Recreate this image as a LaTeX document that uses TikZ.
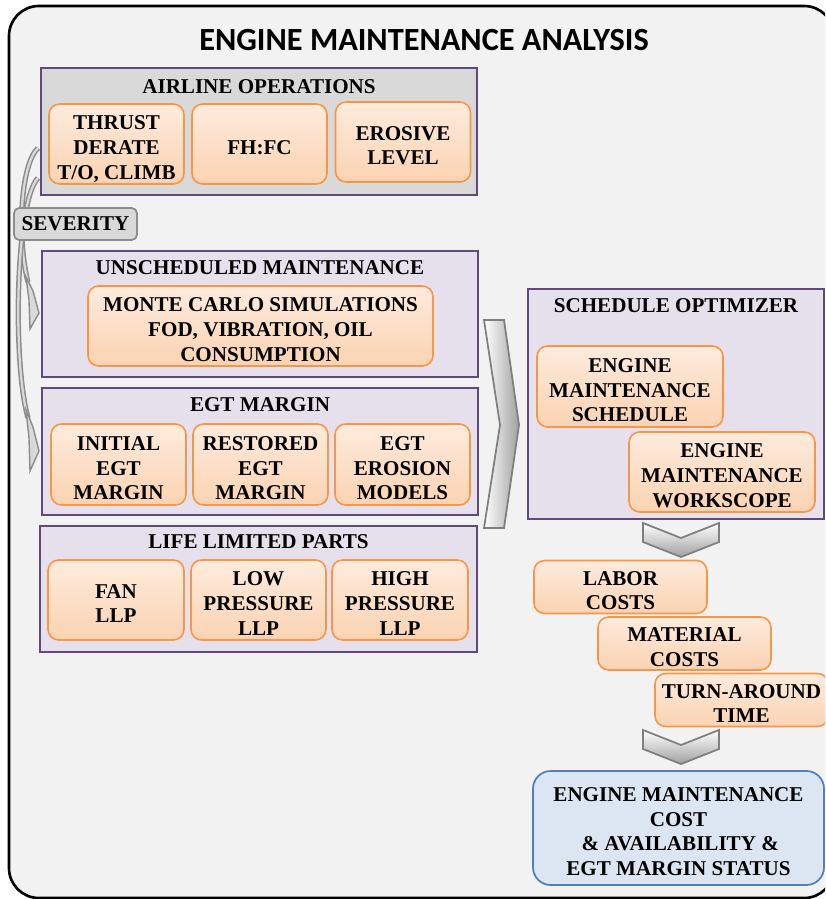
\documentclass[tikz,border=0pt]{standalone}
\usepackage{fontspec}
\setmainfont{Liberation Serif}
\newfontfamily\titlefont{Carlito}

\definecolor{bgGray}{HTML}{F2F2F2}
\definecolor{opsFill}{HTML}{D9D9D9}
\definecolor{lavFill}{HTML}{E5E0EC}
\definecolor{grpLine}{HTML}{604A7B}
\definecolor{orLine}{HTML}{F79646}
\definecolor{orTop}{HTML}{FDEBDD}
\definecolor{orBot}{HTML}{FBD3B2}
\definecolor{blueFill}{HTML}{DCE6F2}
\definecolor{blueLine}{HTML}{4F81BD}
\definecolor{chevLine}{HTML}{7F7F7F}
\definecolor{chevDark}{HTML}{A0A0A0}
\definecolor{sevLine}{HTML}{8C8C8C}

% texto de las cajas, un poco mas abajo del centro
\newcommand{\boxlines}[1]{\raisebox{-3.2pt}[\height][\depth]{\begin{tabular}{@{}c@{}}#1\end{tabular}}}

\begin{document}
\begin{tikzpicture}[x=0.02cm, y=-0.02cm, >=stealth,
    every node/.style={font=\rmfamily\bfseries\fontsize{12}{14}\selectfont, align=center, inner sep=0pt},
    group/.style={draw=grpLine, line width=1pt, fill=lavFill, minimum width=8.72cm, minimum height=2.54cm},
    item/.style={draw=orLine, line width=0.9pt, rounded corners=6pt, top color=orTop, bottom color=orBot,
                 minimum width=2.7cm, minimum height=1.6cm},
    cost/.style={item, minimum width=3.46cm, minimum height=1.06cm},
    chev/.style={draw=chevLine, line width=1pt},
    sevArrow/.style={line width=3pt, sevLine}]

\useasboundingbox (0,0) rectangle (825,899);
\clip (0,0) rectangle (825,899);

% =============================================
% Marco general
% =============================================
\draw[fill=bgGray, line width=1.5pt, rounded corners=17pt] (9,6) rectangle (834,898);
\node[font=\titlefont\bfseries\fontsize{18.4}{20}\selectfont] (title) at (424,40) {ENGINE MAINTENANCE ANALYSIS};

% =============================================
% AIRLINE OPERATIONS
% =============================================
\node[group, fill=opsFill] (ops) at (259,131.5) {};
\node (opsT) at (259,86.5) {AIRLINE OPERATIONS};
\node[item] (thrust) at (116.5,144) {\boxlines{THRUST\\DERATE\\T/O, CLIMB}};
\node[item] (fhfc) at (259.5,144) {\boxlines{FH:FC}};
\node[item] (erosive) at (403,142) {\boxlines{EROSIVE\\LEVEL}};

% =============================================
% UNSCHEDULED MAINTENANCE
% =============================================
\node[group, minimum height=2.52cm] (unsch) at (260,314) {};
\node (unschT) at (260,267.5) {UNSCHEDULED MAINTENANCE};
\node[item, minimum width=6.9cm] (monte) at (260.5,326) {\boxlines{MONTE CARLO SIMULATIONS\\FOD, VIBRATION, OIL\\CONSUMPTION}};

% =============================================
% EGT MARGIN
% =============================================
\node[group] (egt) at (260,451.5) {};
\node (egtT) at (260,405) {EGT MARGIN};
\node[item, minimum height=1.62cm] (initial) at (118.5,464.5) {\boxlines{INITIAL\\EGT\\MARGIN}};
\node[item, minimum height=1.62cm] (restored) at (260.5,464.5) {\boxlines{RESTORED\\EGT\\MARGIN}};
\node[item, minimum height=1.62cm] (erosion) at (402.5,464.5) {\boxlines{EGT\\EROSION\\MODELS}};

% =============================================
% LIFE LIMITED PARTS
% =============================================
\node[group, minimum width=8.74cm, minimum height=2.52cm] (llp) at (258.5,589) {};
\node (llpT) at (258.5,542) {LIFE LIMITED PARTS};
\node[item, minimum width=2.72cm] (fan) at (116,600) {\boxlines{FAN\\LLP}};
\node[item] (lowp) at (258.5,600) {\boxlines{LOW\\PRESSURE\\LLP}};
\node[item, minimum width=2.72cm] (highp) at (400,600) {\boxlines{HIGH\\PRESSURE\\LLP}};

% =============================================
% SEVERITY (flechas curvas a la izquierda)
% =============================================
\coordinate (sevA) at (38,148);
\coordinate (sevAend) at (28,282);
\coordinate (sevB) at (38,178);
\coordinate (sevBend) at (28,418);
\draw[sevArrow] (sevA) .. controls (20,165) and (17,240) .. (sevAend);
\draw[sevArrow, opsFill, line width=1.3pt] (sevA) .. controls (20,165) and (17,240) .. (sevAend);
\filldraw[draw=sevLine, fill=opsFill, line width=0.8pt]
    (26,277) -- (33,291) -- (39,313) -- (30,329) -- (29,300) -- cycle;
\draw[sevArrow] (sevB) .. controls (16,200) and (12,360) .. (sevBend);
\draw[sevArrow, opsFill, line width=1.3pt] (sevB) .. controls (16,200) and (12,360) .. (sevBend);
\filldraw[draw=sevLine, fill=opsFill, line width=0.8pt]
    (26,410) -- (33,427) -- (39,451) -- (30,471) -- (29,438) -- cycle;
\node[draw=sevLine, line width=1pt, fill=opsFill, rounded corners=3pt,
      minimum width=2.46cm, minimum height=0.64cm] (severity) at (75.5,224) {SEVERITY};

% =============================================
% Flecha grande hacia el optimizador
% =============================================
\draw[chev, left color=white, right color=chevDark]
    (484,320) -- (504,320) -- (519,425) -- (504,528) -- (484,528) -- (500,425) -- cycle;

% =============================================
% SCHEDULE OPTIMIZER
% =============================================
\node[group, minimum width=5.92cm, minimum height=4.6cm] (sched) at (676,404) {};
\node (schedT) at (676,305.5) {SCHEDULE OPTIMIZER};
\node[item, minimum width=3.72cm, minimum height=1.62cm] (ems) at (630,386.5) {\boxlines{ENGINE\\MAINTENANCE\\SCHEDULE}};
\node[item, minimum width=3.72cm] (emw) at (722,472) {\boxlines{ENGINE\\MAINTENANCE\\WORKSCOPE}};

% =============================================
% Costos y resultado
% =============================================
\draw[chev, top color=white, bottom color=chevDark]
    (643,523) -- (681,538) -- (719,523) -- (719,542) -- (681,557) -- (643,542) -- cycle;
\node[cost] (labor) at (620.5,587) {\boxlines{LABOR\\COSTS}};
\node[cost] (material) at (684.5,643.5) {\boxlines{MATERIAL\\COSTS}};
\node[cost] (turn) at (741.5,700) {\boxlines{TURN-AROUND\\TIME}};
\draw[chev, top color=white, bottom color=chevDark]
    (643,730) -- (681,745) -- (719,730) -- (719,749) -- (681,764) -- (643,749) -- cycle;
\node[draw=blueLine, line width=1pt, fill=blueFill, rounded corners=10pt,
      minimum width=5.82cm, minimum height=2.28cm] (result) at (678.5,828)
    {\boxlines{ENGINE MAINTENANCE\\COST\\\,\& AVAILABILITY \&\\EGT MARGIN STATUS}};

\end{tikzpicture}
\end{document}
